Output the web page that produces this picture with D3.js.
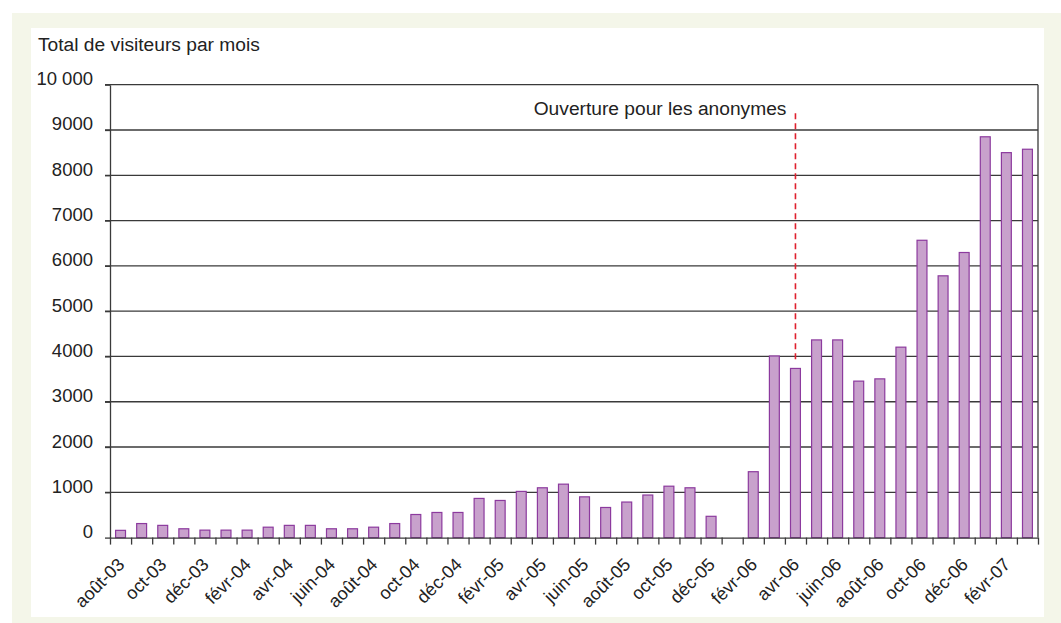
<!DOCTYPE html>
<html>
<head>
<meta charset="utf-8">
<script src="https://cdn.jsdelivr.net/npm/d3@7"></script>
<style>
  body { margin: 0; background: #fff; }
  text { font-family: "Liberation Sans", Arial, Helvetica, sans-serif; fill: #222; }
</style>
</head>
<body>
<svg id="chart"></svg>
<script>
// months from août-03 to mars-07
const months = [
  'août-03', 'sept-03', 'oct-03', 'nov-03', 'déc-03',
  'janv-04', 'févr-04', 'mars-04', 'avr-04', 'mai-04', 'juin-04', 'juil-04', 'août-04', 'sept-04', 'oct-04', 'nov-04', 'déc-04',
  'janv-05', 'févr-05', 'mars-05', 'avr-05', 'mai-05', 'juin-05', 'juil-05', 'août-05', 'sept-05', 'oct-05', 'nov-05', 'déc-05',
  'janv-06', 'févr-06', 'mars-06', 'avr-06', 'mai-06', 'juin-06', 'juil-06', 'août-06', 'sept-06', 'oct-06', 'nov-06', 'déc-06',
  'janv-07', 'févr-07', 'mars-07'
];
const visitors = [
  160, 310, 270, 195, 165,
  165, 165, 230, 270, 270, 195, 195, 230, 310, 510, 555, 555,
  865, 820, 1020, 1100, 1180, 900, 665, 785, 940, 1135, 1100, 470,
  0, 1455, 4010, 3735, 4365, 4365, 3455, 3505, 4205, 6565, 5780, 6295,
  8850, 8500, 8575
];
const yTicks = [0, 1000, 2000, 3000, 4000, 5000, 6000, 7000, 8000, 9000, 10000];
const yTickLabels = ['0', '1000', '2000', '3000', '4000', '5000', '6000', '7000', '8000', '9000', '10 000'];
const title = 'Total de visiteurs par mois';
const noteMonth = 'avr-06';
const noteText = 'Ouverture pour les anonymes';
const noteRange = [9370, 3850];

const W = 1061, H = 623;
const svg = d3.select('#chart').attr('width', W).attr('height', H);

// background panels
svg.append('rect').attr('x', 12).attr('y', 13).attr('width', W - 12).attr('height', H - 13).attr('fill', '#f4f6e9');
svg.append('rect').attr('x', 31).attr('y', 28).attr('width', 1013).attr('height', 589).attr('fill', '#fff');

const plotLeft = 110, plotRight = 1038, plotTop = 84.7, plotBottom = 537.6;

const x = d3.scaleBand().domain(months).range([plotLeft, plotRight]).paddingInner(0.53).paddingOuter(0.265);
const xEdge = d3.scaleLinear().domain([0, months.length]).range([plotLeft, plotRight]);
const y = d3.scaleLinear().domain([0, 10000]).range([plotBottom, plotTop]);

// gridlines
svg.append('g')
  .selectAll('line')
  .data(yTicks.slice(1))
  .enter()
  .append('line')
  .attr('x1', plotLeft - 5)
  .attr('x2', plotRight)
  .attr('y1', d => y(d))
  .attr('y2', d => y(d))
  .attr('stroke', '#3a3a3a')
  .attr('stroke-width', 1.3);

// right border
svg.append('line')
  .attr('x1', plotRight).attr('x2', plotRight)
  .attr('y1', plotTop).attr('y2', plotBottom)
  .attr('stroke', '#3a3a3a').attr('stroke-width', 1.3);

// bars
svg.append('g')
  .selectAll('rect')
  .data(months.map((m, i) => ({ m, v: visitors[i] })).filter(d => d.v > 0))
  .enter()
  .append('rect')
  .attr('x', d => x(d.m))
  .attr('y', d => y(d.v))
  .attr('width', x.bandwidth())
  .attr('height', d => y(0) - y(d.v))
  .attr('fill', '#c8a1cc')
  .attr('stroke', '#8c3a9e')
  .attr('stroke-width', 1.2);

// y axis
const yAxis = d3.axisLeft(y)
  .tickValues(yTicks)
  .tickSize(5)
  .tickSizeOuter(0)
  .tickPadding(12)
  .tickFormat((d, i) => yTickLabels[i]);
const gy = svg.append('g').attr('transform', `translate(${plotLeft},0)`).call(yAxis);
gy.selectAll('path, line').attr('stroke', '#3a3a3a').attr('stroke-width', 1.3);
gy.selectAll('text')
  .attr('dy', '0')
  .style('font-size', '18.5px')
  .attr('fill', '#222')
  .attr('font-family', null);

// x axis: ticks on band edges
const xAxis = d3.axisBottom(xEdge)
  .tickValues(d3.range(months.length + 1))
  .tickSize(7)
  .tickSizeOuter(0)
  .tickFormat('');
const gx = svg.append('g').attr('transform', `translate(0,${plotBottom})`).call(xAxis);
gx.selectAll('path, line').attr('stroke', '#3a3a3a').attr('stroke-width', 1.3);

// x labels, every other month
svg.append('g')
  .selectAll('text')
  .data(months.filter((m, i) => i % 2 === 0))
  .enter()
  .append('text')
  .attr('transform', d => `translate(${x(d) + x.bandwidth() / 2 + 0.5},${plotBottom + 23.5}) rotate(-45)`)
  .attr('text-anchor', 'end')
  .attr('dy', '0.35em')
  .style('font-size', '18px')
  .text(d => d);

// title
svg.append('text')
  .attr('x', 38)
  .attr('y', 51)
  .style('font-size', '19.2px')
  .text(title);

// annotation
const nx = x(noteMonth) + x.bandwidth() / 2;
svg.append('line')
  .attr('x1', nx).attr('x2', nx)
  .attr('y1', y(noteRange[0])).attr('y2', y(noteRange[1]))
  .attr('stroke', '#e0202e')
  .attr('stroke-width', 1.6)
  .attr('stroke-dasharray', '6,4');

svg.append('text')
  .attr('x', nx - 9)
  .attr('y', 115)
  .attr('text-anchor', 'end')
  .style('font-size', '19.2px')
  .text(noteText);
</script>
</body>
</html>
